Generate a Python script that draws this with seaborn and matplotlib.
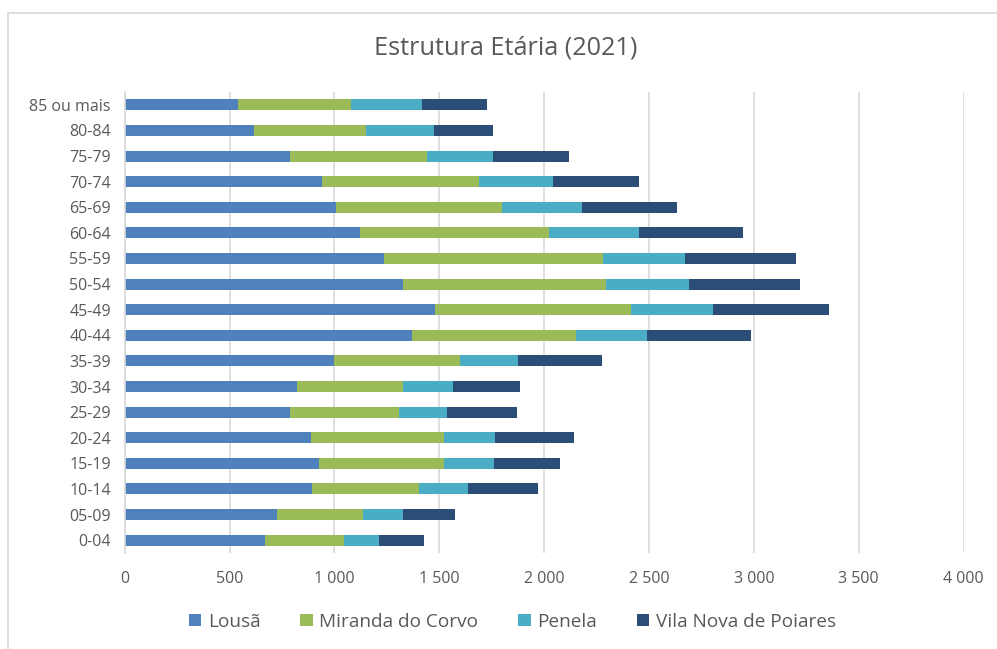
import numpy as np
import pandas as pd
import matplotlib
matplotlib.use("Agg")
import matplotlib.pyplot as plt
from matplotlib.lines import Line2D
from matplotlib.patches import Patch
import seaborn as sns

# Age groups, top to bottom as in the chart
age_groups = ['85 ou mais', '80-84', '75-79', '70-74', '65-69', '60-64', '55-59',
              '50-54', '45-49', '40-44', '35-39', '30-34', '25-29', '20-24',
              '15-19', '10-14', '05-09', '0-04']

lousa = [539, 615, 788, 939, 1008, 1122, 1235, 1327, 1478, 1372, 1000, 820,
         790, 887, 925, 895, 728, 668]
miranda = [539, 536, 652, 751, 793, 900, 1044, 967, 936, 778, 599, 507,
           520, 636, 598, 507, 408, 378]
penela = [338, 325, 318, 354, 378, 431, 393, 398, 393, 339, 278, 240,
          227, 243, 236, 234, 190, 167]
vila_nova = [310, 280, 362, 409, 455, 497, 528, 530, 551, 499, 401, 318,
             335, 378, 317, 334, 249, 216]

series_names = ['Lousã', 'Miranda do Corvo', 'Penela', 'Vila Nova de Poiares']
colors = ['#4F81BD', '#9BBB59', '#4BACC6', '#2C4D75']

sns.set_style("white")
plt.rcParams['font.family'] = ['Open Sans', 'DejaVu Sans']

df = pd.DataFrame({'age': age_groups, 'Lousã': lousa, 'Miranda do Corvo': miranda,
                   'Penela': penela, 'Vila Nova de Poiares': vila_nova})
# cumulative sums for stacking
cum = df[series_names].cumsum(axis=1)

fig = plt.figure(figsize=(9.97, 6.49), dpi=100)
ax = fig.add_axes([0.1251, 0.1479, 0.8414, 0.7103])

# draw from the total backwards so each segment shows on top of the next
for name, col in reversed(list(zip(series_names, colors))):
    sns.barplot(x=cum[name], y=df['age'], orient='h', color=col, width=0.43,
                order=age_groups, ax=ax, saturation=1, edgecolor='none')

ticks = list(range(0, 4001, 500))
ax.set_xlim(0, 4000)
ax.set_xticks(ticks)
ax.set_xticklabels([f"{v:,}".replace(',', ' ') for v in ticks])
ax.set_xlabel('')
ax.set_ylabel('')
ax.grid(axis='x', color='#D9D9D9', linewidth=1.2)
ax.set_axisbelow(True)
for s in ['top', 'right', 'bottom']:
    ax.spines[s].set_visible(False)
ax.spines['left'].set_color('#D9D9D9')
ax.spines['left'].set_linewidth(1.2)
ax.tick_params(axis='both', length=0, colors='#595959', labelsize=11.5)
ax.tick_params(axis='x', pad=13)
ax.tick_params(axis='y', pad=10)

fig.text(0.507, 0.926, 'Estrutura Etária (2021)', ha='center', va='center',
         fontsize=18.2, color='#595959')

handles = [Patch(facecolor=c, edgecolor='none', label=n) for n, c in zip(series_names, colors)]
fig.legend(handles=handles, loc='center', bbox_to_anchor=(0.514, 0.042), ncol=4,
           frameon=False, fontsize=13.7, handlelength=0.65, handleheight=0.65,
           handletextpad=0.35, columnspacing=2.1, labelcolor='#595959')

# chart area border (cropped on right and bottom)
fig.add_artist(Line2D([8 / 997, 8 / 997], [0, 1 - 13 / 649], transform=fig.transFigure,
                      color='#D9D9D9', linewidth=1.2))
fig.add_artist(Line2D([8 / 997, 1], [1 - 13 / 649, 1 - 13 / 649], transform=fig.transFigure,
                      color='#D9D9D9', linewidth=1.2))

fig.savefig('out.png', dpi=100, facecolor='white')
